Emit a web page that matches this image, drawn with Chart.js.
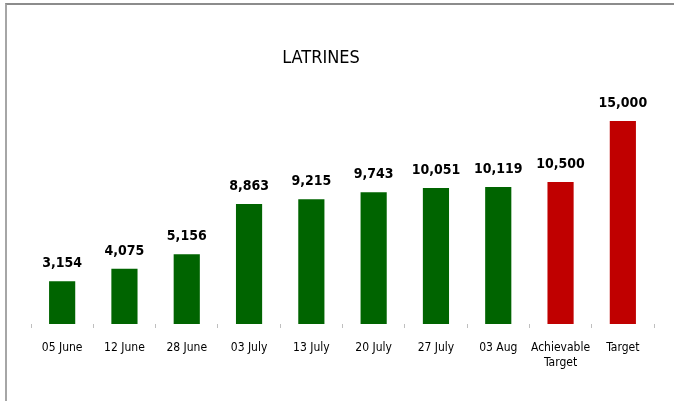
<!DOCTYPE html>
<html>
<head>
<meta charset="utf-8">
<script src="https://cdn.jsdelivr.net/npm/chart.js@4"></script>
<style>
  html, body { margin:0; padding:0; background:#fff; }
  #wrap { position:relative; width:674px; height:401px; }
  #frame { position:absolute; left:5px; top:3px; right:0; bottom:0; border-left:2px solid #a6a6a6; border-top:2px solid #8c8c8c; }
  canvas { position:absolute; left:0; top:0; }
</style>
</head>
<body>
<div id="wrap">
  <div id="frame"></div>
  <canvas id="chart" width="674" height="401"></canvas>
</div>
<script>
const categories = ['05 June', '12 June', '28 June', '03 July', '13 July', '20 July', '27 July', '03 Aug', ['Achievable', 'Target'], 'Target'];
const latrines = [3154, 4075, 5156, 8863, 9215, 9743, 10051, 10119, 10500, 15000];
const barColors = ['#006400', '#006400', '#006400', '#006400', '#006400', '#006400', '#006400', '#006400', '#c00000', '#c00000'];
const chartTitle = 'LATRINES';

const FONT = "'Liberation Sans Narrow', 'DejaVu Sans Condensed', sans-serif";

// value labels above bars + title
const labelPlugin = {
  id: 'labels',
  afterDatasetsDraw(chart) {
    const ctx = chart.ctx;
    ctx.save();
    ctx.fillStyle = '#000';
    ctx.textAlign = 'center';
    ctx.textBaseline = 'bottom';
    ctx.font = "bold 14px " + FONT;
    chart.getDatasetMeta(0).data.forEach((bar, i) => {
      ctx.fillText(latrines[i].toLocaleString('en-US'), bar.x, bar.y - 11);
    });
    ctx.font = "18px " + FONT;
    ctx.textBaseline = 'middle';
    ctx.fillText(chartTitle, 321, 58);
    ctx.restore();
  }
};

new Chart(document.getElementById('chart').getContext('2d'), {
  type: 'bar',
  data: {
    labels: categories,
    datasets: [{
      data: latrines,
      backgroundColor: barColors,
      borderWidth: 0,
      barPercentage: 0.42,
      categoryPercentage: 1
    }]
  },
  options: {
    responsive: false,
    animation: false,
    layout: { padding: { left: 31, right: 20, top: 107.5, bottom: 0 } },
    plugins: { legend: { display: false }, title: { display: false }, tooltip: { enabled: false } },
    scales: {
      y: { display: false, min: 0, max: 16000 },
      x: {
        afterFit: s => { s.height = 77; },
        border: { display: false },
        grid: { offset: true, drawOnChartArea: false, drawTicks: true, tickLength: 4, color: '#bfbfbf' },
        ticks: { color: '#000', font: { family: FONT, size: 12 }, padding: 13, maxRotation: 0, autoSkip: false }
      }
    }
  },
  plugins: [labelPlugin]
});
</script>
</body>
</html>
